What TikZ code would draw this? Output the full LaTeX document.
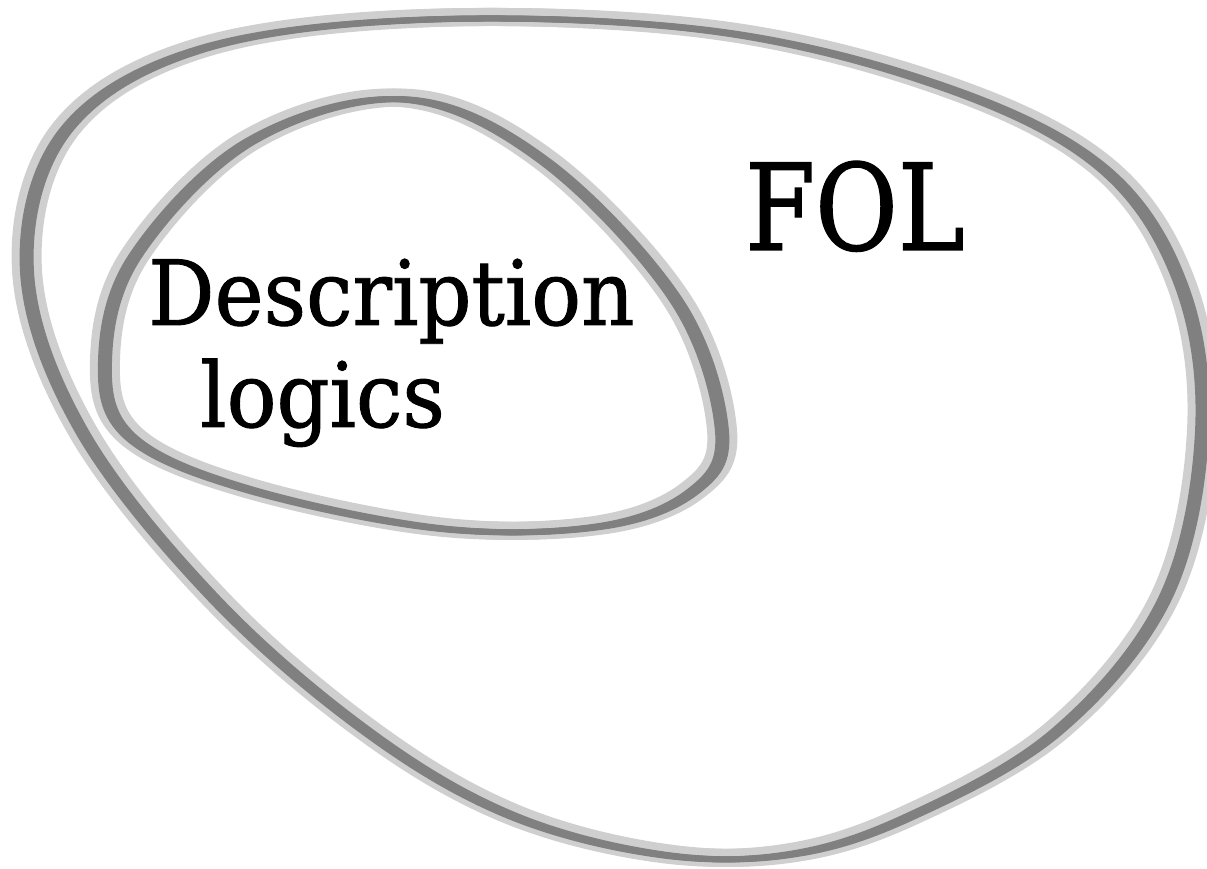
\documentclass[tikz,border=0pt]{standalone}
\usepackage{fontspec}
\newfontfamily\blobfont[FakeStretch=0.92,FakeBold=1]{DejaVu Serif}
\newfontfamily\folfont[FakeStretch=0.84,FakeBold=1]{DejaVu Serif}
\usepackage{tikz}

\begin{document}
\begin{tikzpicture}[x=1pt,y=-1pt,yshift=869pt,
  light/.style={draw=black!19, line width=18pt, line join=round},
  dark/.style={draw=black!50, line width=6pt, line join=round},
  label/.style={inner sep=0pt, anchor=base west}]
  \useasboundingbox (0,0) rectangle (1207,869);
  % the two outlines, light stroke first, dark stroke on top
  \foreach \sty/\dx/\dy in {light/-6/0, light/0/0, light/6/0, dark/-4/1.5, dark/0/1.5, dark/4/1.5} {
    \draw[\sty, xshift=\dx pt, yshift=-\dy pt] plot[smooth cycle, tension=0.6] coordinates {
      (430,18) (716,30) (948,87) (1103,167) (1181,283) (1202,430)
      (1165,597) (1057,730) (910,815) (790,853) (660,853) (509,813)
      (367,730) (214,597) (82,430) (27,270) (65,130) (200,48)};
    \draw[\sty, xshift=\dx pt, yshift=-\dy pt] plot[smooth cycle, tension=0.6] coordinates {
      (405,98) (545,160) (677,300) (722,430) (693,490) (600,525)
      (440,527) (245,487) (130,435) (105,360) (135,255) (250,140)};
  }
  \node[label, font=\blobfont\fontsize{90}{94}\selectfont] (dl1) at (148,325) {Description};
  \node[label, font=\blobfont\fontsize{90}{94}\selectfont] (dl2) at (200,427) {logics};
  \node[label, font=\folfont\fontsize{120}{124}\selectfont] (fol) at (745,250) {FOL};
\end{tikzpicture}
\end{document}
